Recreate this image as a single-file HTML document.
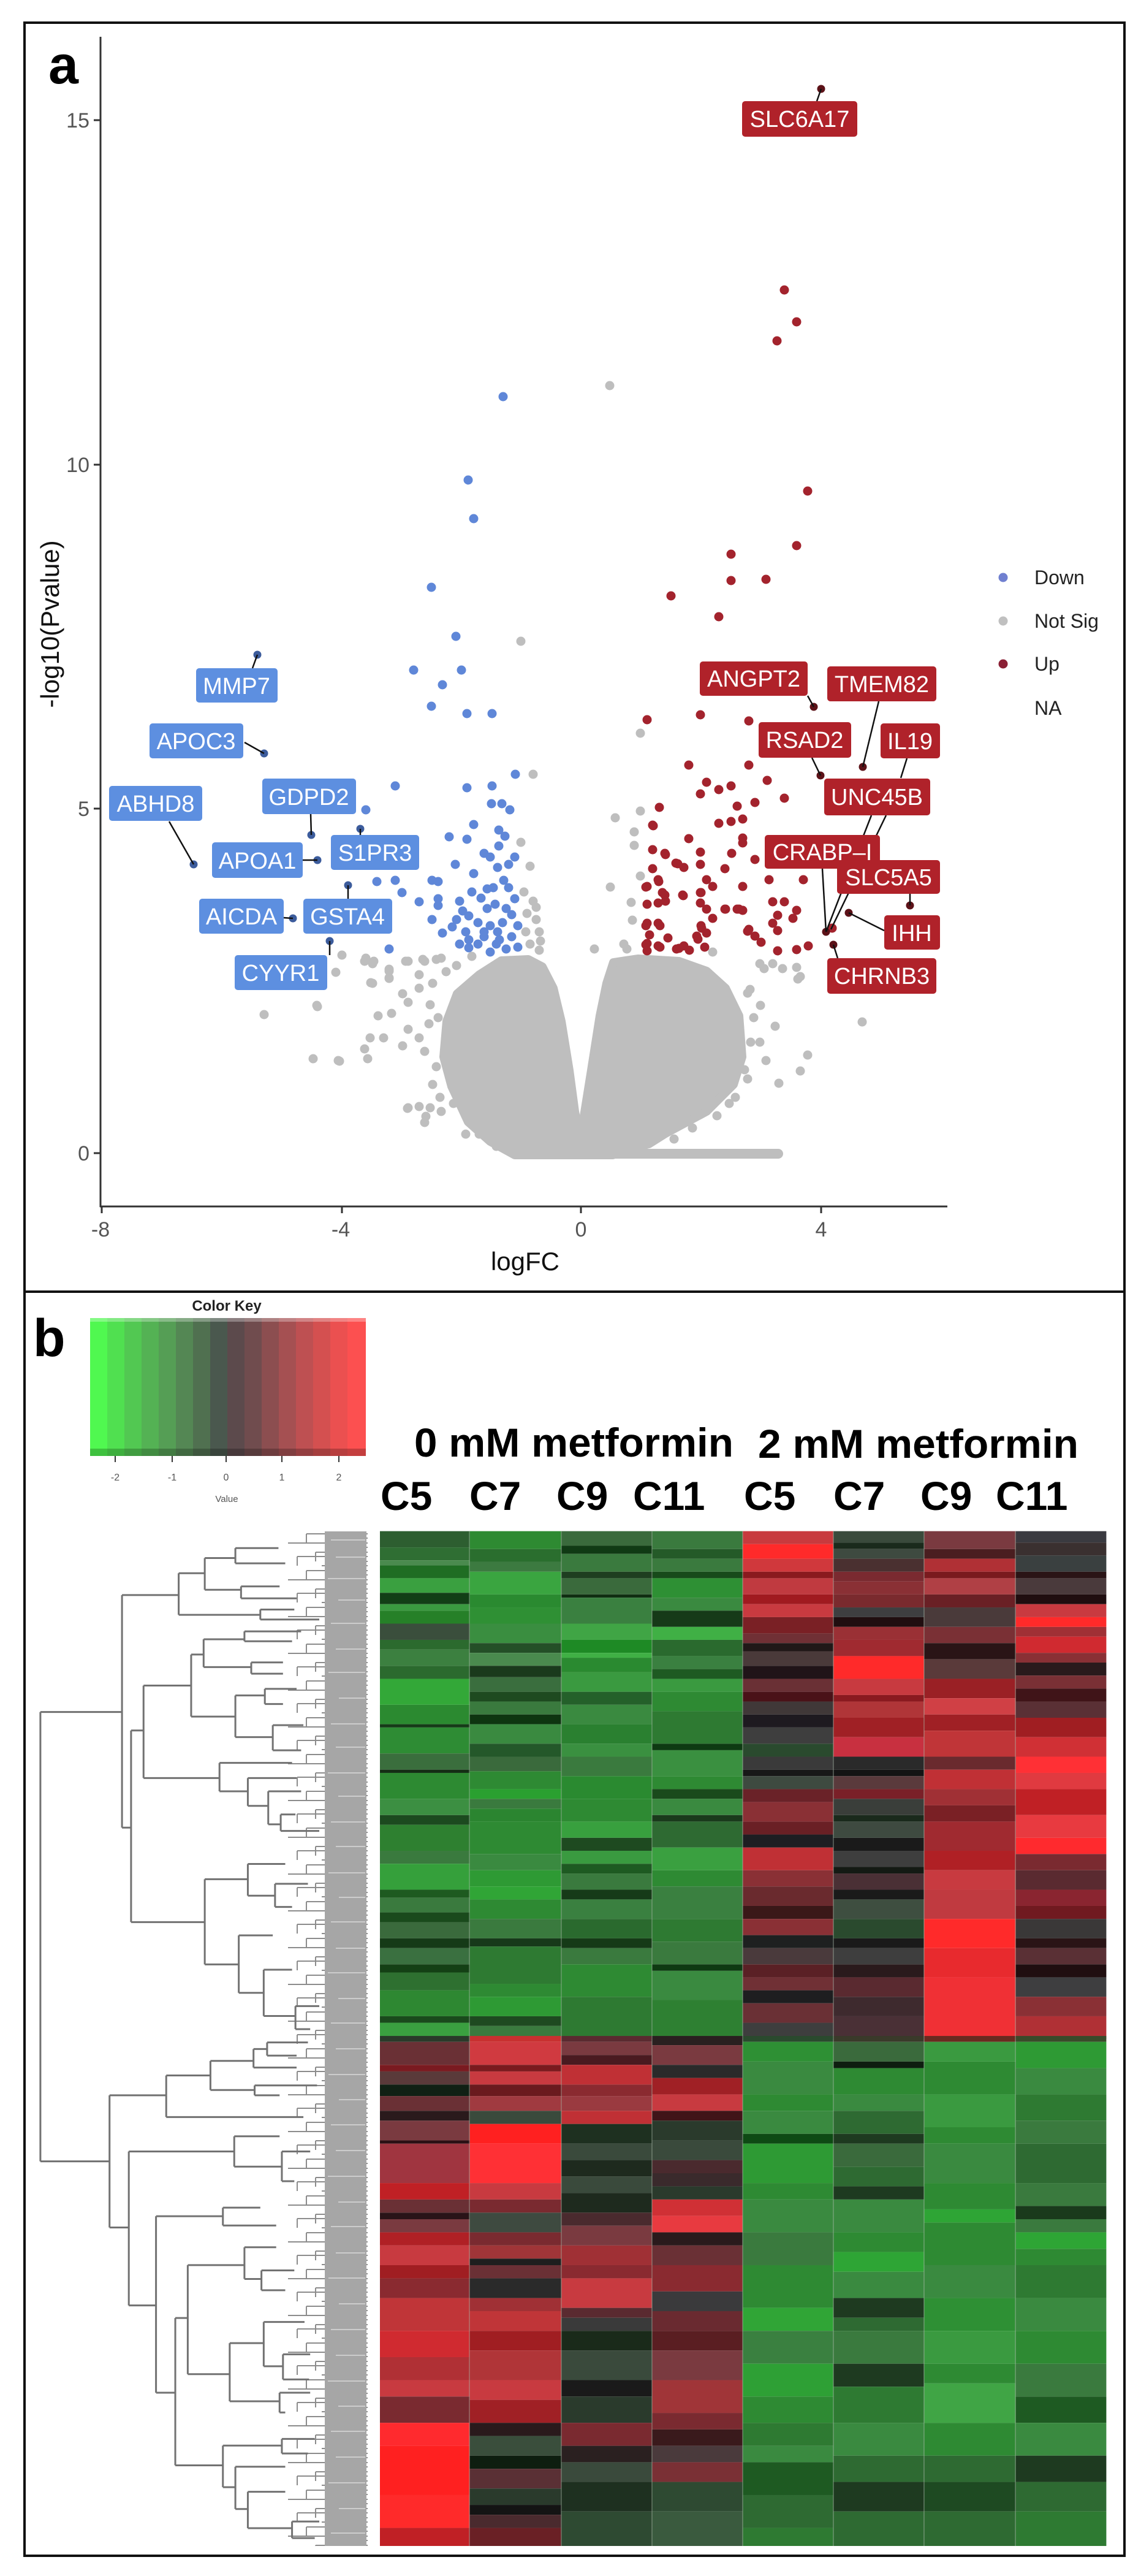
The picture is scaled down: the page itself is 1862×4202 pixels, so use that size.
<!DOCTYPE html>
<html><head><meta charset="utf-8"><style>
html,body{margin:0;padding:0;background:#fff}
svg{display:block}
text{font-family:"Liberation Sans",Arial,sans-serif}
</style></head><body>
<svg width="1862" height="4202" viewBox="0 0 1862 4202" xmlns="http://www.w3.org/2000/svg">
<rect x="0" y="0" width="1862" height="4202" fill="#fff"/>
<rect x="40" y="37" width="1795" height="4132" fill="none" stroke="#111" stroke-width="4"/>
<line x1="40" y1="2107" x2="1835" y2="2107" stroke="#111" stroke-width="4"/>

<text x="79" y="136" font-size="88" font-weight="bold" fill="#000">a</text>

<!-- gray cloud -->
<path d="M840,1884 L800,1862 L764,1830 L737,1772 L724,1724 L729,1666 L746,1621 L782,1590 L818,1567 L862,1565 L885,1577 L903,1612 L916,1666 L929,1746 L938,1813 L945,1848 L952,1827 L965,1746 L979,1657 L990,1604 L1001,1570 L1041,1564 L1108,1568 L1153,1584 L1184,1612 L1206,1657 L1211,1724 L1197,1769 L1153,1813 L1086,1849 L1059,1866 L1020,1876 L1000,1884 Z" fill="#bebebe" stroke="#bebebe" stroke-width="14" stroke-linejoin="round"/>
<rect x="835" y="1874" width="443" height="16" rx="8" fill="#bebebe"/>
<g fill="#bebebe">
<circle cx="995" cy="629" r="7.5"/><circle cx="850" cy="1046" r="7.5"/><circle cx="1045" cy="1196" r="7.5"/><circle cx="870" cy="1263" r="7.5"/><circle cx="850" cy="1374" r="7.5"/><circle cx="865" cy="1413" r="7.5"/><circle cx="1045" cy="1323" r="7.5"/><circle cx="1004" cy="1334" r="7.5"/><circle cx="1035" cy="1357" r="7.5"/><circle cx="1035" cy="1379" r="7.5"/><circle cx="1045" cy="1429" r="7.5"/><circle cx="996" cy="1447" r="7.5"/><circle cx="1030" cy="1472" r="7.5"/><circle cx="1032" cy="1501" r="7.5"/><circle cx="970" cy="1548" r="7.5"/><circle cx="1023" cy="1548" r="7.5"/><circle cx="1018" cy="1540" r="7.5"/><circle cx="1163" cy="1553" r="7.5"/><circle cx="1240" cy="1572" r="7.5"/><circle cx="1261" cy="1572" r="7.5"/><circle cx="1300" cy="1578" r="7.5"/><circle cx="1302" cy="1597" r="7.5"/><circle cx="1224" cy="1614" r="7.5"/><circle cx="1247" cy="1580" r="7.5"/><circle cx="1277" cy="1580" r="7.5"/><circle cx="1306" cy="1593" r="7.5"/>
<circle cx="855" cy="1455" r="7.5"/><circle cx="870" cy="1470" r="7.5"/><circle cx="860" cy="1490" r="7.5"/><circle cx="875" cy="1500" r="7.5"/><circle cx="880" cy="1520" r="7.5"/><circle cx="865" cy="1540" r="7.5"/><circle cx="880" cy="1550" r="7.5"/><circle cx="858" cy="1520" r="7.5"/><circle cx="875" cy="1480" r="7.5"/><circle cx="882" cy="1535" r="7.5"/>
<circle cx="558" cy="1558" r="7.5"/><circle cx="597" cy="1563" r="7.5"/><circle cx="610" cy="1568" r="7.5"/><circle cx="635" cy="1584" r="7.5"/><circle cx="635" cy="1596" r="7.5"/><circle cx="548" cy="1586" r="7.5"/><circle cx="605" cy="1603" r="7.5"/><circle cx="666" cy="1568" r="7.5"/><circle cx="690" cy="1565" r="7.5"/><circle cx="712" cy="1565" r="7.5"/><circle cx="518" cy="1642" r="7.5"/><circle cx="431" cy="1655" r="7.5"/><circle cx="517" cy="1640" r="7.5"/><circle cx="511" cy="1727" r="7.5"/><circle cx="552" cy="1730" r="7.5"/><circle cx="600" cy="1727" r="7.5"/><circle cx="665" cy="1808" r="7.5"/><circle cx="695" cy="1821" r="7.5"/>
<circle cx="595" cy="1568" r="7.5"/><circle cx="608" cy="1572" r="7.5"/><circle cx="635" cy="1581" r="7.5"/><circle cx="662" cy="1568" r="7.5"/><circle cx="693" cy="1568" r="7.5"/><circle cx="720" cy="1563" r="7.5"/><circle cx="608" cy="1604" r="7.5"/><circle cx="635" cy="1595" r="7.5"/><circle cx="684" cy="1590" r="7.5"/><circle cx="657" cy="1621" r="7.5"/><circle cx="684" cy="1612" r="7.5"/><circle cx="706" cy="1604" r="7.5"/><circle cx="666" cy="1635" r="7.5"/><circle cx="617" cy="1657" r="7.5"/><circle cx="639" cy="1653" r="7.5"/><circle cx="702" cy="1639" r="7.5"/><circle cx="666" cy="1679" r="7.5"/><circle cx="604" cy="1693" r="7.5"/><circle cx="626" cy="1693" r="7.5"/><circle cx="595" cy="1711" r="7.5"/><circle cx="657" cy="1706" r="7.5"/><circle cx="684" cy="1693" r="7.5"/><circle cx="693" cy="1715" r="7.5"/><circle cx="554" cy="1731" r="7.5"/><circle cx="706" cy="1769" r="7.5"/><circle cx="666" cy="1807" r="7.5"/><circle cx="684" cy="1805" r="7.5"/><circle cx="702" cy="1807" r="7.5"/><circle cx="693" cy="1831" r="7.5"/><circle cx="720" cy="1813" r="7.5"/><circle cx="782" cy="1850" r="7.5"/><circle cx="715" cy="1660" r="7.5"/><circle cx="712" cy="1740" r="7.5"/><circle cx="718" cy="1790" r="7.5"/><circle cx="700" cy="1670" r="7.5"/><circle cx="728" cy="1585" r="7.5"/><circle cx="745" cy="1575" r="7.5"/><circle cx="770" cy="1560" r="7.5"/><circle cx="730" cy="1700" r="7.5"/><circle cx="740" cy="1800" r="7.5"/><circle cx="760" cy="1850" r="7.5"/><circle cx="810" cy="1870" r="7.5"/>
<circle cx="1407" cy="1667" r="7.5"/><circle cx="1318" cy="1721" r="7.5"/><circle cx="1306" cy="1747" r="7.5"/><circle cx="1271" cy="1767" r="7.5"/><circle cx="1265" cy="1674" r="7.5"/><circle cx="1241" cy="1640" r="7.5"/><circle cx="1220" cy="1620" r="7.5"/><circle cx="1230" cy="1660" r="7.5"/><circle cx="1225" cy="1700" r="7.5"/><circle cx="1215" cy="1745" r="7.5"/><circle cx="1240" cy="1700" r="7.5"/><circle cx="1200" cy="1790" r="7.5"/><circle cx="1220" cy="1760" r="7.5"/><circle cx="1250" cy="1730" r="7.5"/><circle cx="1190" cy="1800" r="7.5"/><circle cx="1170" cy="1820" r="7.5"/><circle cx="1130" cy="1840" r="7.5"/><circle cx="1100" cy="1858" r="7.5"/>
</g>

<!-- blue points -->
<g fill="#5f87d8">
<circle cx="821" cy="647" r="7.5"/><circle cx="764" cy="783" r="7.5"/><circle cx="773" cy="846" r="7.5"/><circle cx="704" cy="958" r="7.5"/><circle cx="744" cy="1038" r="7.5"/><circle cx="675" cy="1093" r="7.5"/><circle cx="753" cy="1093" r="7.5"/><circle cx="722" cy="1117" r="7.5"/><circle cx="704" cy="1152" r="7.5"/><circle cx="762" cy="1164" r="7.5"/><circle cx="803" cy="1164" r="7.5"/><circle cx="841" cy="1263" r="7.5"/><circle cx="645" cy="1282" r="7.5"/><circle cx="762" cy="1285" r="7.5"/><circle cx="803" cy="1282" r="7.5"/><circle cx="802" cy="1311" r="7.5"/><circle cx="819" cy="1311" r="7.5"/><circle cx="832" cy="1321" r="7.5"/><circle cx="597" cy="1321" r="7.5"/><circle cx="773" cy="1345" r="7.5"/><circle cx="733" cy="1365" r="7.5"/><circle cx="762" cy="1369" r="7.5"/><circle cx="814" cy="1354" r="7.5"/><circle cx="824" cy="1364" r="7.5"/><circle cx="814" cy="1380" r="7.5"/><circle cx="743" cy="1410" r="7.5"/><circle cx="773" cy="1425" r="7.5"/><circle cx="790" cy="1392" r="7.5"/><circle cx="800" cy="1398" r="7.5"/><circle cx="840" cy="1398" r="7.5"/><circle cx="812" cy="1415" r="7.5"/><circle cx="822" cy="1436" r="7.5"/><circle cx="805" cy="1448" r="7.5"/><circle cx="795" cy="1450" r="7.5"/><circle cx="830" cy="1448" r="7.5"/><circle cx="615" cy="1438" r="7.5"/><circle cx="645" cy="1436" r="7.5"/><circle cx="656" cy="1456" r="7.5"/><circle cx="705" cy="1436" r="7.5"/><circle cx="715" cy="1438" r="7.5"/><circle cx="684" cy="1471" r="7.5"/><circle cx="715" cy="1466" r="7.5"/><circle cx="715" cy="1477" r="7.5"/><circle cx="705" cy="1500" r="7.5"/><circle cx="840" cy="1466" r="7.5"/><circle cx="755" cy="1486" r="7.5"/><circle cx="765" cy="1494" r="7.5"/><circle cx="795" cy="1482" r="7.5"/><circle cx="826" cy="1482" r="7.5"/><circle cx="835" cy="1492" r="7.5"/><circle cx="722" cy="1522" r="7.5"/><circle cx="738" cy="1512" r="7.5"/><circle cx="765" cy="1533" r="7.5"/><circle cx="790" cy="1528" r="7.5"/><circle cx="815" cy="1533" r="7.5"/><circle cx="835" cy="1528" r="7.5"/><circle cx="765" cy="1546" r="7.5"/><circle cx="826" cy="1548" r="7.5"/><circle cx="635" cy="1548" r="7.5"/><circle cx="780" cy="1505" r="7.5"/><circle cx="800" cy="1510" r="7.5"/><circle cx="820" cy="1505" r="7.5"/><circle cx="790" cy="1520" r="7.5"/><circle cx="810" cy="1540" r="7.5"/><circle cx="780" cy="1540" r="7.5"/><circle cx="800" cy="1553" r="7.5"/><circle cx="760" cy="1520" r="7.5"/><circle cx="845" cy="1510" r="7.5"/><circle cx="845" cy="1545" r="7.5"/><circle cx="750" cy="1470" r="7.5"/><circle cx="785" cy="1465" r="7.5"/><circle cx="808" cy="1475" r="7.5"/><circle cx="770" cy="1455" r="7.5"/><circle cx="830" cy="1410" r="7.5"/><circle cx="745" cy="1500" r="7.5"/><circle cx="812" cy="1520" r="7.5"/><circle cx="750" cy="1540" r="7.5"/>
</g>
<g fill="#3c5c9c">
<circle cx="420" cy="1068" r="6.5"/><circle cx="431" cy="1229" r="6.5"/><circle cx="316" cy="1410" r="6.5"/><circle cx="508" cy="1362" r="6.5"/><circle cx="518" cy="1403" r="6.5"/><circle cx="588" cy="1352" r="6.5"/><circle cx="478" cy="1498" r="6.5"/><circle cx="568" cy="1444" r="6.5"/><circle cx="538" cy="1535" r="6.5"/>
</g>

<!-- red points -->
<g fill="#a3232d">
<circle cx="1280" cy="473" r="7.5"/><circle cx="1300" cy="525" r="7.5"/><circle cx="1268" cy="556" r="7.5"/><circle cx="1318" cy="801" r="7.5"/><circle cx="1300" cy="890" r="7.5"/><circle cx="1193" cy="904" r="7.5"/><circle cx="1193" cy="947" r="7.5"/><circle cx="1250" cy="945" r="7.5"/><circle cx="1095" cy="972" r="7.5"/><circle cx="1173" cy="1006" r="7.5"/>
<circle cx="1056" cy="1174" r="7.5"/><circle cx="1143" cy="1166" r="7.5"/><circle cx="1222" cy="1176" r="7.5"/><circle cx="1124" cy="1248" r="7.5"/><circle cx="1222" cy="1248" r="7.5"/><circle cx="1153" cy="1276" r="7.5"/><circle cx="1193" cy="1282" r="7.5"/><circle cx="1173" cy="1288" r="7.5"/><circle cx="1143" cy="1295" r="7.5"/><circle cx="1252" cy="1273" r="7.5"/><circle cx="1280" cy="1302" r="7.5"/><circle cx="1232" cy="1309" r="7.5"/><circle cx="1076" cy="1317" r="7.5"/><circle cx="1203" cy="1315" r="7.5"/><circle cx="1193" cy="1340" r="7.5"/><circle cx="1173" cy="1343" r="7.5"/><circle cx="1212" cy="1336" r="7.5"/><circle cx="1065" cy="1346" r="7.5"/><circle cx="1124" cy="1368" r="7.5"/><circle cx="1212" cy="1367" r="7.5"/><circle cx="1212" cy="1375" r="7.5"/><circle cx="1065" cy="1386" r="7.5"/><circle cx="1085" cy="1392" r="7.5"/><circle cx="1143" cy="1390" r="7.5"/><circle cx="1194" cy="1392" r="7.5"/><circle cx="1232" cy="1402" r="7.5"/><circle cx="1103" cy="1408" r="7.5"/><circle cx="1116" cy="1415" r="7.5"/><circle cx="1143" cy="1410" r="7.5"/><circle cx="1183" cy="1417" r="7.5"/><circle cx="1065" cy="1417" r="7.5"/><circle cx="1074" cy="1435" r="7.5"/><circle cx="1056" cy="1446" r="7.5"/><circle cx="1153" cy="1435" r="7.5"/><circle cx="1163" cy="1446" r="7.5"/><circle cx="1255" cy="1435" r="7.5"/><circle cx="1311" cy="1435" r="7.5"/><circle cx="1212" cy="1446" r="7.5"/><circle cx="1114" cy="1460" r="7.5"/><circle cx="1085" cy="1460" r="7.5"/><circle cx="1143" cy="1456" r="7.5"/><circle cx="1143" cy="1473" r="7.5"/><circle cx="1056" cy="1475" r="7.5"/><circle cx="1074" cy="1473" r="7.5"/><circle cx="1261" cy="1471" r="7.5"/><circle cx="1280" cy="1471" r="7.5"/><circle cx="1183" cy="1483" r="7.5"/><circle cx="1203" cy="1483" r="7.5"/><circle cx="1212" cy="1485" r="7.5"/><circle cx="1153" cy="1483" r="7.5"/><circle cx="1163" cy="1498" r="7.5"/><circle cx="1300" cy="1485" r="7.5"/><circle cx="1294" cy="1498" r="7.5"/><circle cx="1269" cy="1493" r="7.5"/><circle cx="1261" cy="1506" r="7.5"/><circle cx="1269" cy="1518" r="7.5"/><circle cx="1056" cy="1506" r="7.5"/><circle cx="1074" cy="1506" r="7.5"/><circle cx="1145" cy="1514" r="7.5"/><circle cx="1153" cy="1522" r="7.5"/><circle cx="1137" cy="1527" r="7.5"/><circle cx="1222" cy="1516" r="7.5"/><circle cx="1232" cy="1527" r="7.5"/><circle cx="1358" cy="1514" r="7.5"/><circle cx="1056" cy="1539" r="7.5"/><circle cx="1074" cy="1543" r="7.5"/><circle cx="1108" cy="1547" r="7.5"/><circle cx="1116" cy="1543" r="7.5"/><circle cx="1242" cy="1537" r="7.5"/><circle cx="1269" cy="1551" r="7.5"/><circle cx="1300" cy="1549" r="7.5"/><circle cx="1319" cy="1543" r="7.5"/><circle cx="1056" cy="1551" r="7.5"/><circle cx="1066" cy="1347" r="7.5"/><circle cx="1086" cy="1394" r="7.5"/><circle cx="1106" cy="1409" r="7.5"/><circle cx="1054" cy="1447" r="7.5"/><circle cx="1075" cy="1438" r="7.5"/><circle cx="1081" cy="1456" r="7.5"/><circle cx="1086" cy="1470" r="7.5"/><circle cx="1115" cy="1461" r="7.5"/><circle cx="1144" cy="1456" r="7.5"/><circle cx="1184" cy="1483" r="7.5"/><circle cx="1206" cy="1483" r="7.5"/><circle cx="1054" cy="1510" r="7.5"/><circle cx="1077" cy="1510" r="7.5"/><circle cx="1144" cy="1510" r="7.5"/><circle cx="1139" cy="1532" r="7.5"/><circle cx="1054" cy="1541" r="7.5"/><circle cx="1077" cy="1545" r="7.5"/><circle cx="1104" cy="1548" r="7.5"/><circle cx="1220" cy="1519" r="7.5"/><circle cx="1060" cy="1525" r="7.5"/><circle cx="1150" cy="1545" r="7.5"/><circle cx="1125" cy="1550" r="7.5"/><circle cx="1090" cy="1530" r="7.5"/>
</g>
<g fill="#5c1218">
<circle cx="1340" cy="145" r="6.5"/><circle cx="1328" cy="1153" r="6.5"/><circle cx="1408" cy="1251" r="6.5"/><circle cx="1339" cy="1265" r="6.5"/><circle cx="1385" cy="1489" r="6.5"/><circle cx="1485" cy="1477" r="6.5"/><circle cx="1348" cy="1520" r="6.5"/><circle cx="1360" cy="1541" r="6.5"/>
</g>

<!-- axes -->
<g stroke="#333" stroke-width="3" fill="none">
<line x1="164" y1="60" x2="164" y2="1969"/>
<line x1="163" y1="1968" x2="1546" y2="1968"/>
<line x1="153" y1="1881" x2="164" y2="1881"/>
<line x1="153" y1="1319" x2="164" y2="1319"/>
<line x1="153" y1="758" x2="164" y2="758"/>
<line x1="153" y1="196" x2="164" y2="196"/>
<line x1="166" y1="1968" x2="166" y2="1979"/>
<line x1="558" y1="1968" x2="558" y2="1979"/>
<line x1="948" y1="1968" x2="948" y2="1979"/>
<line x1="1340" y1="1968" x2="1340" y2="1979"/>
</g>
<g font-size="34" fill="#555" text-anchor="end">
<text x="146" y="1893">0</text>
<text x="146" y="1331">5</text>
<text x="146" y="770">10</text>
<text x="146" y="208">15</text>
</g>
<g font-size="34" fill="#555" text-anchor="middle">
<text x="164" y="2017">-8</text>
<text x="556" y="2017">-4</text>
<text x="948" y="2017">0</text>
<text x="1340" y="2017">4</text>
</g>
<text x="857" y="2072" font-size="42" fill="#111" text-anchor="middle">logFC</text>
<text transform="translate(96,1018) rotate(-90)" font-size="42" fill="#111" text-anchor="middle">-log10(Pvalue)</text>

<!-- legend -->
<circle cx="1637" cy="942" r="7.5" fill="#7080d0"/>
<circle cx="1637" cy="1013" r="7.5" fill="#c0c0c0"/>
<circle cx="1637" cy="1083" r="7.5" fill="#8b2035"/>
<g font-size="32" fill="#222">
<text x="1688" y="953">Down</text>
<text x="1688" y="1024">Not Sig</text>
<text x="1688" y="1094">Up</text>
<text x="1688" y="1166">NA</text>
</g>

<!-- label segments -->
<g stroke="#111" stroke-width="2.5" fill="none">
<line x1="412" y1="1090" x2="420" y2="1068"/>
<line x1="399" y1="1211" x2="431" y2="1229"/>
<line x1="276" y1="1340" x2="316" y2="1410"/>
<line x1="507" y1="1328" x2="508" y2="1362"/>
<line x1="494" y1="1403" x2="518" y2="1403"/>
<line x1="588" y1="1362" x2="588" y2="1352"/>
<line x1="463" y1="1497" x2="478" y2="1498"/>
<line x1="568" y1="1466" x2="568" y2="1444"/>
<line x1="538" y1="1558" x2="538" y2="1535"/>
<line x1="1333" y1="165" x2="1340" y2="145"/>
<line x1="1318" y1="1135" x2="1328" y2="1153"/>
<line x1="1434" y1="1144" x2="1408" y2="1251"/>
<line x1="1325" y1="1236" x2="1339" y2="1265"/>
<line x1="1480" y1="1237" x2="1470" y2="1269"/>
<line x1="1422" y1="1330" x2="1348" y2="1520"/>
<line x1="1446" y1="1330" x2="1356" y2="1516"/>
<line x1="1342" y1="1417" x2="1348" y2="1520"/>
<line x1="1485" y1="1458" x2="1485" y2="1477"/>
<line x1="1443" y1="1518" x2="1385" y2="1489"/>
<line x1="1367" y1="1563" x2="1360" y2="1541"/>
</g>

<!-- blue labels -->
<g fill="#5d8fe0">
<rect x="320" y="1090" width="133" height="56" rx="5"/>
<rect x="244" y="1180" width="153" height="57" rx="5"/>
<rect x="178" y="1282" width="152" height="57" rx="5"/>
<rect x="428" y="1270" width="153" height="58" rx="5"/>
<rect x="346" y="1374" width="148" height="58" rx="5"/>
<rect x="540" y="1362" width="144" height="57" rx="5"/>
<rect x="325" y="1466" width="138" height="57" rx="5"/>
<rect x="495" y="1466" width="145" height="57" rx="5"/>
<rect x="383" y="1558" width="151" height="57" rx="5"/>
</g>
<g font-size="38" fill="#fff" text-anchor="middle">
<text x="386" y="1132">MMP7</text>
<text x="320" y="1222">APOC3</text>
<text x="254" y="1324">ABHD8</text>
<text x="504" y="1313">GDPD2</text>
<text x="420" y="1417">APOA1</text>
<text x="612" y="1404">S1PR3</text>
<text x="394" y="1508">AICDA</text>
<text x="567" y="1508">GSTA4</text>
<text x="458" y="1600">CYYR1</text>
</g>

<!-- red labels -->
<g fill="#b0222a">
<rect x="1211" y="165" width="188" height="58" rx="5"/>
<rect x="1142" y="1079" width="176" height="56" rx="5"/>
<rect x="1350" y="1087" width="178" height="57" rx="5"/>
<rect x="1238" y="1178" width="151" height="58" rx="5"/>
<rect x="1437" y="1180" width="97" height="57" rx="5"/>
<rect x="1345" y="1270" width="173" height="60" rx="5"/>
<rect x="1366" y="1403" width="168" height="55" rx="5"/>
</g>
<text x="1450" y="1444" font-size="38" fill="#fff" text-anchor="middle">SLC5A5</text>
<rect x="1248" y="1362" width="188" height="55" rx="5" fill="#b0222a"/>
<g fill="#b0222a">
<rect x="1443" y="1493" width="91" height="56" rx="5"/>
<rect x="1350" y="1563" width="178" height="58" rx="5"/>
</g>
<g font-size="38" fill="#fff" text-anchor="middle">
<text x="1305" y="207">SLC6A17</text>
<text x="1230" y="1120">ANGPT2</text>
<text x="1439" y="1129">TMEM82</text>
<text x="1313" y="1220">RSAD2</text>
<text x="1485" y="1222">IL19</text>
<text x="1431" y="1313">UNC45B</text>
<text x="1342" y="1403">CRABP–I</text>
<text x="1488" y="1535">IHH</text>
<text x="1439" y="1605">CHRNB3</text>
</g>

<!-- ================= PANEL B ================= -->
<text x="54" y="2212" font-size="86" font-weight="bold" fill="#000">b</text>

<g>
<rect x="147" y="2150" width="29" height="225" fill="#50f850"/>
<rect x="175" y="2150" width="29" height="225" fill="#50e050"/>
<rect x="203" y="2150" width="29" height="225" fill="#52c852"/>
<rect x="231" y="2150" width="29" height="225" fill="#54b254"/>
<rect x="259" y="2150" width="29" height="225" fill="#559e55"/>
<rect x="287" y="2150" width="29" height="225" fill="#548754"/>
<rect x="315" y="2150" width="29" height="225" fill="#507050"/>
<rect x="343" y="2150" width="29" height="225" fill="#4a584e"/>
<rect x="371" y="2150" width="29" height="225" fill="#5c4a4c"/>
<rect x="399" y="2150" width="29" height="225" fill="#704c4e"/>
<rect x="427" y="2150" width="29" height="225" fill="#8c4e50"/>
<rect x="455" y="2150" width="29" height="225" fill="#a55052"/>
<rect x="483" y="2150" width="29" height="225" fill="#be5052"/>
<rect x="511" y="2150" width="29" height="225" fill="#d45050"/>
<rect x="539" y="2150" width="29" height="225" fill="#eb5050"/>
<rect x="567" y="2150" width="30" height="225" fill="#fc5050"/>
<rect x="147" y="2363" width="450" height="12" fill="#000" opacity="0.22"/>
<rect x="147" y="2150" width="450" height="6" fill="#fff" opacity="0.3"/>
</g>
<g stroke="#333" stroke-width="2">
<line x1="188" y1="2375" x2="188" y2="2385"/>
<line x1="281" y1="2375" x2="281" y2="2385"/>
<line x1="369" y1="2375" x2="369" y2="2385"/>
<line x1="460" y1="2375" x2="460" y2="2385"/>
<line x1="553" y1="2375" x2="553" y2="2385"/>
</g>
<g font-size="16" fill="#555" text-anchor="middle">
<text x="188" y="2415">-2</text>
<text x="281" y="2415">-1</text>
<text x="369" y="2415">0</text>
<text x="460" y="2415">1</text>
<text x="553" y="2415">2</text>
<text x="370" y="2450" font-size="15">Value</text>
</g>
<text x="370" y="2138" font-size="24" font-weight="bold" fill="#222" text-anchor="middle">Color Key</text>

<g font-size="66" font-weight="bold" fill="#000">
<text x="676" y="2376" textLength="521" lengthAdjust="spacingAndGlyphs">0 mM metformin</text>
<text x="1237" y="2378" textLength="523" lengthAdjust="spacingAndGlyphs">2 mM metformin</text>
<text x="621" y="2463">C5</text>
<text x="766" y="2463">C7</text>
<text x="908" y="2463">C9</text>
<text x="1033" y="2463">C11</text>
<text x="1214" y="2463">C5</text>
<text x="1360" y="2463">C7</text>
<text x="1502" y="2463">C9</text>
<text x="1625" y="2463">C11</text>
</g>

<!-- heatmap upper -->
<g transform="translate(620,2495) scale(0.7589,0.5293)">
<g>
<rect x="0" y="5" width="193" height="50" fill="#2d5e30"/><rect x="0" y="55" width="193" height="40" fill="#2f6e33"/><rect x="0" y="95" width="193" height="15" fill="#4a8a4e"/><rect x="0" y="110" width="193" height="40" fill="#1f6d23"/><rect x="0" y="150" width="193" height="45" fill="#3aa040"/><rect x="0" y="195" width="193" height="35" fill="#123f16"/><rect x="0" y="230" width="193" height="20" fill="#3a9a40"/><rect x="0" y="250" width="193" height="40" fill="#268028"/><rect x="0" y="290" width="193" height="50" fill="#3a4e3c"/><rect x="0" y="340" width="193" height="30" fill="#2b6a2e"/><rect x="0" y="370" width="193" height="50" fill="#3c8040"/><rect x="0" y="420" width="193" height="40" fill="#2b6a2e"/><rect x="0" y="460" width="193" height="80" fill="#33a838"/><rect x="0" y="540" width="193" height="60" fill="#2b8a30"/><rect x="0" y="600" width="193" height="10" fill="#163a18"/><rect x="0" y="610" width="193" height="80" fill="#2e8c34"/><rect x="0" y="690" width="193" height="50" fill="#3a6e3d"/><rect x="0" y="740" width="193" height="10" fill="#142e15"/><rect x="0" y="750" width="193" height="80" fill="#2d8a32"/><rect x="0" y="830" width="193" height="50" fill="#3c8f42"/><rect x="0" y="880" width="193" height="30" fill="#1c4a1f"/><rect x="0" y="910" width="193" height="80" fill="#2e8030"/><rect x="0" y="990" width="193" height="40" fill="#3a7a3e"/><rect x="0" y="1030" width="193" height="80" fill="#35a03b"/><rect x="0" y="1110" width="193" height="25" fill="#1e5a20"/><rect x="0" y="1135" width="193" height="45" fill="#3a7a3e"/><rect x="0" y="1180" width="193" height="30" fill="#1a4a1c"/><rect x="0" y="1210" width="193" height="50" fill="#3a6a3c"/><rect x="0" y="1260" width="193" height="30" fill="#153a17"/><rect x="0" y="1290" width="193" height="50" fill="#3a7040"/><rect x="0" y="1340" width="193" height="25" fill="#144015"/><rect x="0" y="1365" width="193" height="55" fill="#2e7030"/><rect x="0" y="1420" width="193" height="80" fill="#2e8832"/><rect x="0" y="1500" width="193" height="20" fill="#1a4a1c"/><rect x="0" y="1520" width="193" height="50" fill="#3aa040"/>
</g>
<g transform="translate(193,0)">
<rect x="0" y="5" width="197" height="55" fill="#2e8a32"/><rect x="0" y="60" width="197" height="40" fill="#2a6e2e"/><rect x="0" y="100" width="197" height="30" fill="#3c7a40"/><rect x="0" y="130" width="197" height="70" fill="#3aa540"/><rect x="0" y="200" width="197" height="40" fill="#2a8a30"/><rect x="0" y="240" width="197" height="50" fill="#2f9034"/><rect x="0" y="290" width="197" height="60" fill="#3a8e40"/><rect x="0" y="350" width="197" height="30" fill="#244f27"/><rect x="0" y="380" width="197" height="40" fill="#4a8a4e"/><rect x="0" y="420" width="197" height="35" fill="#1a3a1c"/><rect x="0" y="455" width="197" height="45" fill="#3a6e3e"/><rect x="0" y="500" width="197" height="30" fill="#1e4a20"/><rect x="0" y="530" width="197" height="40" fill="#3a7a3e"/><rect x="0" y="570" width="197" height="30" fill="#0e3510"/><rect x="0" y="600" width="197" height="60" fill="#3a8a40"/><rect x="0" y="660" width="197" height="40" fill="#24582a"/><rect x="0" y="700" width="197" height="45" fill="#3a6a3c"/><rect x="0" y="745" width="197" height="55" fill="#2e8a33"/><rect x="0" y="800" width="197" height="30" fill="#2aa030"/><rect x="0" y="830" width="197" height="30" fill="#3a7a3e"/><rect x="0" y="860" width="197" height="40" fill="#2b8530"/><rect x="0" y="900" width="197" height="100" fill="#2e8a33"/><rect x="0" y="1000" width="197" height="50" fill="#3a8a40"/><rect x="0" y="1050" width="197" height="50" fill="#2e9a34"/><rect x="0" y="1100" width="197" height="40" fill="#30a536"/><rect x="0" y="1140" width="197" height="60" fill="#2e8a33"/><rect x="0" y="1200" width="197" height="60" fill="#3a7a3e"/><rect x="0" y="1260" width="197" height="25" fill="#17391a"/><rect x="0" y="1285" width="197" height="115" fill="#2e7a32"/><rect x="0" y="1400" width="197" height="40" fill="#2e8a33"/><rect x="0" y="1440" width="197" height="60" fill="#2e9a34"/><rect x="0" y="1500" width="197" height="30" fill="#1e4a20"/><rect x="0" y="1530" width="197" height="40" fill="#3a7a3e"/>
</g>
<g transform="translate(390,0)">
<rect x="0" y="5" width="195" height="45" fill="#3a6a3c"/><rect x="0" y="50" width="195" height="25" fill="#103a14"/><rect x="0" y="75" width="195" height="55" fill="#3a7a3e"/><rect x="0" y="130" width="195" height="20" fill="#1e3e20"/><rect x="0" y="150" width="195" height="50" fill="#3a6a3c"/><rect x="0" y="200" width="195" height="10" fill="#102e12"/><rect x="0" y="210" width="195" height="80" fill="#3a8040"/><rect x="0" y="290" width="195" height="50" fill="#40a545"/><rect x="0" y="340" width="195" height="40" fill="#1e8a25"/><rect x="0" y="380" width="195" height="15" fill="#40b045"/><rect x="0" y="395" width="195" height="45" fill="#2a8a30"/><rect x="0" y="440" width="195" height="60" fill="#3a9a40"/><rect x="0" y="500" width="195" height="40" fill="#24602a"/><rect x="0" y="540" width="195" height="60" fill="#3a8a40"/><rect x="0" y="600" width="195" height="60" fill="#2a8030"/><rect x="0" y="660" width="195" height="40" fill="#3a9040"/><rect x="0" y="700" width="195" height="60" fill="#3a7a3e"/><rect x="0" y="760" width="195" height="70" fill="#2a8a30"/><rect x="0" y="830" width="195" height="70" fill="#2e8a33"/><rect x="0" y="900" width="195" height="50" fill="#38a03e"/><rect x="0" y="950" width="195" height="40" fill="#1e4a20"/><rect x="0" y="990" width="195" height="40" fill="#3a9a40"/><rect x="0" y="1030" width="195" height="30" fill="#1e5a22"/><rect x="0" y="1060" width="195" height="50" fill="#3a7a3e"/><rect x="0" y="1110" width="195" height="30" fill="#163a18"/><rect x="0" y="1140" width="195" height="60" fill="#3a8040"/><rect x="0" y="1200" width="195" height="60" fill="#2a6a2e"/><rect x="0" y="1260" width="195" height="30" fill="#153a17"/><rect x="0" y="1290" width="195" height="50" fill="#3a7a3e"/><rect x="0" y="1340" width="195" height="100" fill="#2e8a33"/><rect x="0" y="1440" width="195" height="130" fill="#2e7a32"/>
</g>
<g transform="translate(585,0)">
<rect x="0" y="5" width="195" height="55" fill="#3a7a3e"/><rect x="0" y="60" width="195" height="30" fill="#245a28"/><rect x="0" y="90" width="195" height="40" fill="#3a7a3e"/><rect x="0" y="130" width="195" height="20" fill="#174a1a"/><rect x="0" y="150" width="195" height="60" fill="#2e9034"/><rect x="0" y="210" width="195" height="40" fill="#3a8a40"/><rect x="0" y="250" width="195" height="50" fill="#163a18"/><rect x="0" y="300" width="195" height="40" fill="#40b045"/><rect x="0" y="340" width="195" height="50" fill="#2a6a2e"/><rect x="0" y="390" width="195" height="40" fill="#3a8040"/><rect x="0" y="430" width="195" height="30" fill="#1e5a22"/><rect x="0" y="460" width="195" height="40" fill="#3a9a40"/><rect x="0" y="500" width="195" height="60" fill="#2e8a33"/><rect x="0" y="560" width="195" height="100" fill="#2e7a32"/><rect x="0" y="660" width="195" height="20" fill="#0e3a12"/><rect x="0" y="680" width="195" height="80" fill="#3a9040"/><rect x="0" y="760" width="195" height="40" fill="#2e8a33"/><rect x="0" y="800" width="195" height="30" fill="#1a4a1c"/><rect x="0" y="830" width="195" height="50" fill="#3a8a40"/><rect x="0" y="880" width="195" height="20" fill="#1a3a1c"/><rect x="0" y="900" width="195" height="80" fill="#2e6a32"/><rect x="0" y="980" width="195" height="70" fill="#3aa040"/><rect x="0" y="1050" width="195" height="50" fill="#2e8a33"/><rect x="0" y="1100" width="195" height="100" fill="#3a8040"/><rect x="0" y="1200" width="195" height="70" fill="#2e7a32"/><rect x="0" y="1270" width="195" height="70" fill="#3a7a3e"/><rect x="0" y="1340" width="195" height="20" fill="#0e3a12"/><rect x="0" y="1360" width="195" height="90" fill="#3a8a40"/><rect x="0" y="1450" width="195" height="120" fill="#2e8032"/>
</g>
<g transform="translate(780,0)">
<rect x="0" y="5" width="195" height="40" fill="#c83a3e"/><rect x="0" y="45" width="195" height="45" fill="#ff2a2a"/><rect x="0" y="90" width="195" height="40" fill="#d0383c"/><rect x="0" y="130" width="195" height="20" fill="#8a1a1e"/><rect x="0" y="150" width="195" height="50" fill="#c03a40"/><rect x="0" y="200" width="195" height="30" fill="#a01a20"/><rect x="0" y="230" width="195" height="40" fill="#c83a40"/><rect x="0" y="270" width="195" height="50" fill="#7a2025"/><rect x="0" y="320" width="195" height="30" fill="#703035"/><rect x="0" y="350" width="195" height="25" fill="#201818"/><rect x="0" y="375" width="195" height="45" fill="#4a3a3a"/><rect x="0" y="420" width="195" height="40" fill="#201418"/><rect x="0" y="460" width="195" height="40" fill="#6a3035"/><rect x="0" y="500" width="195" height="30" fill="#4a1218"/><rect x="0" y="530" width="195" height="40" fill="#403838"/><rect x="0" y="570" width="195" height="40" fill="#1e1a20"/><rect x="0" y="610" width="195" height="50" fill="#3e3e3e"/><rect x="0" y="660" width="195" height="40" fill="#2a4a2e"/><rect x="0" y="700" width="195" height="40" fill="#3a3a3a"/><rect x="0" y="740" width="195" height="20" fill="#181818"/><rect x="0" y="760" width="195" height="40" fill="#3e4a40"/><rect x="0" y="800" width="195" height="40" fill="#6a2228"/><rect x="0" y="840" width="195" height="60" fill="#8a3035"/><rect x="0" y="900" width="195" height="40" fill="#6a2025"/><rect x="0" y="940" width="195" height="40" fill="#1e1e22"/><rect x="0" y="980" width="195" height="70" fill="#c03035"/><rect x="0" y="1050" width="195" height="50" fill="#8a3035"/><rect x="0" y="1100" width="195" height="60" fill="#6a2a2e"/><rect x="0" y="1160" width="195" height="40" fill="#3a1818"/><rect x="0" y="1200" width="195" height="50" fill="#8a3035"/><rect x="0" y="1250" width="195" height="40" fill="#1e2020"/><rect x="0" y="1290" width="195" height="50" fill="#4a3a3c"/><rect x="0" y="1340" width="195" height="40" fill="#5a2025"/><rect x="0" y="1380" width="195" height="40" fill="#703035"/><rect x="0" y="1420" width="195" height="40" fill="#1e1e20"/><rect x="0" y="1460" width="195" height="60" fill="#6a3035"/><rect x="0" y="1520" width="195" height="50" fill="#3e3e3e"/>
</g>
<g transform="translate(975,0)">
<rect x="0" y="5" width="195" height="35" fill="#3a4a3c"/><rect x="0" y="40" width="195" height="20" fill="#1a2a1c"/><rect x="0" y="60" width="195" height="30" fill="#3e4a40"/><rect x="0" y="90" width="195" height="40" fill="#4a3030"/><rect x="0" y="130" width="195" height="30" fill="#7a2a30"/><rect x="0" y="160" width="195" height="40" fill="#8a3035"/><rect x="0" y="200" width="195" height="40" fill="#7a2a2e"/><rect x="0" y="240" width="195" height="30" fill="#3e3e40"/><rect x="0" y="270" width="195" height="30" fill="#200e10"/><rect x="0" y="300" width="195" height="40" fill="#9a3035"/><rect x="0" y="340" width="195" height="50" fill="#a02a30"/><rect x="0" y="390" width="195" height="70" fill="#ff2a2a"/><rect x="0" y="460" width="195" height="50" fill="#c83a40"/><rect x="0" y="510" width="195" height="20" fill="#8a1a20"/><rect x="0" y="530" width="195" height="50" fill="#b03538"/><rect x="0" y="580" width="195" height="60" fill="#a02025"/><rect x="0" y="640" width="195" height="60" fill="#c83040"/><rect x="0" y="700" width="195" height="40" fill="#2a2a2a"/><rect x="0" y="740" width="195" height="20" fill="#141414"/><rect x="0" y="760" width="195" height="40" fill="#5a3a3c"/><rect x="0" y="800" width="195" height="30" fill="#7a2028"/><rect x="0" y="830" width="195" height="50" fill="#3a3e3a"/><rect x="0" y="880" width="195" height="20" fill="#1a2a1c"/><rect x="0" y="900" width="195" height="50" fill="#3e4a40"/><rect x="0" y="950" width="195" height="40" fill="#1a1a1a"/><rect x="0" y="990" width="195" height="50" fill="#3e3e3e"/><rect x="0" y="1040" width="195" height="20" fill="#141a14"/><rect x="0" y="1060" width="195" height="50" fill="#4a3035"/><rect x="0" y="1110" width="195" height="30" fill="#1a1a1a"/><rect x="0" y="1140" width="195" height="60" fill="#3e4e40"/><rect x="0" y="1200" width="195" height="60" fill="#2a4a2e"/><rect x="0" y="1260" width="195" height="30" fill="#1a1a1a"/><rect x="0" y="1290" width="195" height="50" fill="#3e3e3e"/><rect x="0" y="1340" width="195" height="40" fill="#2a1a1c"/><rect x="0" y="1380" width="195" height="60" fill="#5a2a30"/><rect x="0" y="1440" width="195" height="60" fill="#3e2a2e"/><rect x="0" y="1500" width="195" height="70" fill="#4a3036"/>
</g>
<g transform="translate(1170,0)">
<rect x="0" y="5" width="197" height="55" fill="#7a3a40"/><rect x="0" y="60" width="197" height="30" fill="#4a1e20"/><rect x="0" y="90" width="197" height="40" fill="#b03035"/><rect x="0" y="130" width="197" height="20" fill="#7a1a1e"/><rect x="0" y="150" width="197" height="50" fill="#b04045"/><rect x="0" y="200" width="197" height="40" fill="#6a2025"/><rect x="0" y="240" width="197" height="60" fill="#4a3a3a"/><rect x="0" y="300" width="197" height="50" fill="#7a3035"/><rect x="0" y="350" width="197" height="50" fill="#2a1416"/><rect x="0" y="400" width="197" height="60" fill="#5a3a3a"/><rect x="0" y="460" width="197" height="60" fill="#9a2025"/><rect x="0" y="520" width="197" height="50" fill="#d04045"/><rect x="0" y="570" width="197" height="50" fill="#a02025"/><rect x="0" y="620" width="197" height="80" fill="#c03538"/><rect x="0" y="700" width="197" height="40" fill="#6a2a2e"/><rect x="0" y="740" width="197" height="60" fill="#c03035"/><rect x="0" y="800" width="197" height="50" fill="#a03035"/><rect x="0" y="850" width="197" height="50" fill="#7a2025"/><rect x="0" y="900" width="197" height="90" fill="#a02a30"/><rect x="0" y="990" width="197" height="60" fill="#b02025"/><rect x="0" y="1050" width="197" height="60" fill="#c83a40"/><rect x="0" y="1110" width="197" height="90" fill="#c03a40"/><rect x="0" y="1200" width="197" height="90" fill="#ff2a2a"/><rect x="0" y="1290" width="197" height="90" fill="#e82a2e"/><rect x="0" y="1380" width="197" height="190" fill="#f03035"/>
</g>
<g transform="translate(1367,0)">
<rect x="0" y="5" width="195" height="35" fill="#3a3a40"/><rect x="0" y="40" width="195" height="40" fill="#3a3030"/><rect x="0" y="80" width="195" height="50" fill="#3a4040"/><rect x="0" y="130" width="195" height="20" fill="#2a1416"/><rect x="0" y="150" width="195" height="50" fill="#4a3a3c"/><rect x="0" y="200" width="195" height="30" fill="#200e10"/><rect x="0" y="230" width="195" height="40" fill="#c83a40"/><rect x="0" y="270" width="195" height="30" fill="#ff2a2a"/><rect x="0" y="300" width="195" height="30" fill="#a03035"/><rect x="0" y="330" width="195" height="50" fill="#d02a30"/><rect x="0" y="380" width="195" height="30" fill="#8a3035"/><rect x="0" y="410" width="195" height="40" fill="#2a1a1c"/><rect x="0" y="450" width="195" height="40" fill="#7a3035"/><rect x="0" y="490" width="195" height="40" fill="#401418"/><rect x="0" y="530" width="195" height="50" fill="#5a3035"/><rect x="0" y="580" width="195" height="60" fill="#a01e22"/><rect x="0" y="640" width="195" height="60" fill="#d03035"/><rect x="0" y="700" width="195" height="50" fill="#ff3035"/><rect x="0" y="750" width="195" height="50" fill="#e03a40"/><rect x="0" y="800" width="195" height="80" fill="#c02025"/><rect x="0" y="880" width="195" height="70" fill="#e83a40"/><rect x="0" y="950" width="195" height="50" fill="#ff2a2e"/><rect x="0" y="1000" width="195" height="50" fill="#7a2a30"/><rect x="0" y="1050" width="195" height="60" fill="#5a2a30"/><rect x="0" y="1110" width="195" height="50" fill="#8a2530"/><rect x="0" y="1160" width="195" height="40" fill="#701a20"/><rect x="0" y="1200" width="195" height="60" fill="#3a3838"/><rect x="0" y="1260" width="195" height="30" fill="#2a1416"/><rect x="0" y="1290" width="195" height="50" fill="#5a3035"/><rect x="0" y="1340" width="195" height="40" fill="#200e10"/><rect x="0" y="1380" width="195" height="60" fill="#3e3e40"/><rect x="0" y="1440" width="195" height="60" fill="#8a3035"/><rect x="0" y="1500" width="195" height="70" fill="#b03035"/>
</g>
</g>

<!-- heatmap lower -->
<g transform="translate(620,3320) scale(0.7589,0.5357)">
<g>
<rect x="0" y="2" width="193" height="18" fill="#2a3a2a"/><rect x="0" y="20" width="193" height="70" fill="#6a3035"/><rect x="0" y="90" width="193" height="20" fill="#7a1a20"/><rect x="0" y="110" width="193" height="40" fill="#5a3a3a"/><rect x="0" y="150" width="193" height="35" fill="#102014"/><rect x="0" y="185" width="193" height="45" fill="#6a3035"/><rect x="0" y="230" width="193" height="30" fill="#2a1a1c"/><rect x="0" y="260" width="193" height="60" fill="#7a3a40"/><rect x="0" y="320" width="193" height="10" fill="#2a1014"/><rect x="0" y="330" width="193" height="120" fill="#a03540"/><rect x="0" y="450" width="193" height="50" fill="#c02025"/><rect x="0" y="500" width="193" height="40" fill="#6a3035"/><rect x="0" y="540" width="193" height="20" fill="#2a1418"/><rect x="0" y="560" width="193" height="40" fill="#7a3a40"/><rect x="0" y="600" width="193" height="40" fill="#b02025"/><rect x="0" y="640" width="193" height="60" fill="#c83a40"/><rect x="0" y="700" width="193" height="40" fill="#a01e22"/><rect x="0" y="740" width="193" height="60" fill="#8a2a30"/><rect x="0" y="800" width="193" height="100" fill="#c03538"/><rect x="0" y="900" width="193" height="80" fill="#d02a30"/><rect x="0" y="980" width="193" height="70" fill="#b03035"/><rect x="0" y="1050" width="193" height="50" fill="#c83a40"/><rect x="0" y="1100" width="193" height="80" fill="#7a2a30"/><rect x="0" y="1180" width="193" height="70" fill="#ff2a2e"/><rect x="0" y="1250" width="193" height="150" fill="#ff2020"/><rect x="0" y="1400" width="193" height="100" fill="#ff2a2a"/><rect x="0" y="1500" width="193" height="55" fill="#c02025"/>
</g>
<g transform="translate(193,0)">
<rect x="0" y="2" width="197" height="18" fill="#c83030"/><rect x="0" y="20" width="197" height="70" fill="#d03a40"/><rect x="0" y="90" width="197" height="20" fill="#7a1a1e"/><rect x="0" y="110" width="197" height="40" fill="#c83a40"/><rect x="0" y="150" width="197" height="35" fill="#6a1a1e"/><rect x="0" y="185" width="197" height="45" fill="#a03a40"/><rect x="0" y="230" width="197" height="40" fill="#3a4a3c"/><rect x="0" y="270" width="197" height="60" fill="#ff2020"/><rect x="0" y="330" width="197" height="120" fill="#ff3035"/><rect x="0" y="450" width="197" height="50" fill="#c83a40"/><rect x="0" y="500" width="197" height="40" fill="#7a2a30"/><rect x="0" y="540" width="197" height="60" fill="#3e4a40"/><rect x="0" y="600" width="197" height="40" fill="#7a2a30"/><rect x="0" y="640" width="197" height="40" fill="#a03538"/><rect x="0" y="680" width="197" height="20" fill="#1e1e1e"/><rect x="0" y="700" width="197" height="40" fill="#6a3035"/><rect x="0" y="740" width="197" height="60" fill="#2a2a2a"/><rect x="0" y="800" width="197" height="40" fill="#a03035"/><rect x="0" y="840" width="197" height="60" fill="#c03538"/><rect x="0" y="900" width="197" height="60" fill="#a01e22"/><rect x="0" y="960" width="197" height="90" fill="#b03538"/><rect x="0" y="1050" width="197" height="60" fill="#c83a40"/><rect x="0" y="1110" width="197" height="70" fill="#a02025"/><rect x="0" y="1180" width="197" height="40" fill="#2a1a1c"/><rect x="0" y="1220" width="197" height="60" fill="#3a4e3c"/><rect x="0" y="1280" width="197" height="40" fill="#0e1e10"/><rect x="0" y="1320" width="197" height="60" fill="#5a3035"/><rect x="0" y="1380" width="197" height="50" fill="#2a3a2c"/><rect x="0" y="1430" width="197" height="30" fill="#141414"/><rect x="0" y="1460" width="197" height="40" fill="#4a2a2e"/><rect x="0" y="1500" width="197" height="55" fill="#6a2025"/>
</g>
<g transform="translate(390,0)">
<rect x="0" y="2" width="195" height="18" fill="#5a2a30"/><rect x="0" y="20" width="195" height="40" fill="#7a3a40"/><rect x="0" y="60" width="195" height="30" fill="#4a1a20"/><rect x="0" y="90" width="195" height="60" fill="#c03035"/><rect x="0" y="150" width="195" height="35" fill="#8a2a30"/><rect x="0" y="185" width="195" height="45" fill="#9a3a40"/><rect x="0" y="230" width="195" height="40" fill="#c03035"/><rect x="0" y="270" width="195" height="60" fill="#1e3020"/><rect x="0" y="330" width="195" height="50" fill="#3a4a3c"/><rect x="0" y="380" width="195" height="50" fill="#1e2a1e"/><rect x="0" y="430" width="195" height="50" fill="#3a4a3c"/><rect x="0" y="480" width="195" height="60" fill="#1e2a1e"/><rect x="0" y="540" width="195" height="40" fill="#4a2a2e"/><rect x="0" y="580" width="195" height="60" fill="#7a3a40"/><rect x="0" y="640" width="195" height="60" fill="#a03035"/><rect x="0" y="700" width="195" height="40" fill="#8a2a30"/><rect x="0" y="740" width="195" height="90" fill="#c83a40"/><rect x="0" y="830" width="195" height="30" fill="#5a2a30"/><rect x="0" y="860" width="195" height="40" fill="#3a3a3a"/><rect x="0" y="900" width="195" height="60" fill="#1a2a1a"/><rect x="0" y="960" width="195" height="90" fill="#3a4a3c"/><rect x="0" y="1050" width="195" height="50" fill="#1a1a1a"/><rect x="0" y="1100" width="195" height="80" fill="#2a3a2c"/><rect x="0" y="1180" width="195" height="70" fill="#7a2a30"/><rect x="0" y="1250" width="195" height="50" fill="#2a2020"/><rect x="0" y="1300" width="195" height="60" fill="#3a4a3c"/><rect x="0" y="1360" width="195" height="90" fill="#1e3020"/><rect x="0" y="1450" width="195" height="105" fill="#2e4a32"/>
</g>
<g transform="translate(585,0)">
<rect x="0" y="2" width="195" height="28" fill="#2a2020"/><rect x="0" y="30" width="195" height="60" fill="#7a3a40"/><rect x="0" y="90" width="195" height="40" fill="#2a2a2a"/><rect x="0" y="130" width="195" height="50" fill="#a02025"/><rect x="0" y="180" width="195" height="50" fill="#c83a40"/><rect x="0" y="230" width="195" height="30" fill="#401418"/><rect x="0" y="260" width="195" height="60" fill="#2a3a2c"/><rect x="0" y="320" width="195" height="60" fill="#3a4a3c"/><rect x="0" y="380" width="195" height="40" fill="#4a2a2e"/><rect x="0" y="420" width="195" height="40" fill="#3a2a2c"/><rect x="0" y="460" width="195" height="40" fill="#2a3a2c"/><rect x="0" y="500" width="195" height="50" fill="#d03035"/><rect x="0" y="550" width="195" height="50" fill="#e83a40"/><rect x="0" y="600" width="195" height="40" fill="#2a1a1c"/><rect x="0" y="640" width="195" height="60" fill="#6a3035"/><rect x="0" y="700" width="195" height="80" fill="#8a2a30"/><rect x="0" y="780" width="195" height="60" fill="#3a3a3c"/><rect x="0" y="840" width="195" height="60" fill="#6a2a30"/><rect x="0" y="900" width="195" height="60" fill="#5a1e22"/><rect x="0" y="960" width="195" height="90" fill="#7a3a40"/><rect x="0" y="1050" width="195" height="100" fill="#a03538"/><rect x="0" y="1150" width="195" height="50" fill="#7a2a30"/><rect x="0" y="1200" width="195" height="50" fill="#3a1a1c"/><rect x="0" y="1250" width="195" height="50" fill="#4a3a3c"/><rect x="0" y="1300" width="195" height="60" fill="#7a3035"/><rect x="0" y="1360" width="195" height="90" fill="#2e4a32"/><rect x="0" y="1450" width="195" height="105" fill="#3a5a3e"/>
</g>
<g transform="translate(780,0)">
<rect x="0" y="2" width="195" height="18" fill="#2a4a2e"/><rect x="0" y="20" width="195" height="60" fill="#2e9034"/><rect x="0" y="80" width="195" height="100" fill="#3a8a40"/><rect x="0" y="180" width="195" height="50" fill="#2e8a33"/><rect x="0" y="230" width="195" height="70" fill="#3a8a40"/><rect x="0" y="300" width="195" height="30" fill="#0e4a14"/><rect x="0" y="330" width="195" height="120" fill="#2e9a34"/><rect x="0" y="450" width="195" height="50" fill="#2e8a33"/><rect x="0" y="500" width="195" height="100" fill="#3a8a40"/><rect x="0" y="600" width="195" height="100" fill="#3a7a3e"/><rect x="0" y="700" width="195" height="130" fill="#2e8a33"/><rect x="0" y="830" width="195" height="70" fill="#30a536"/><rect x="0" y="900" width="195" height="100" fill="#3a8040"/><rect x="0" y="1000" width="195" height="100" fill="#2ea035"/><rect x="0" y="1100" width="195" height="80" fill="#2e8a33"/><rect x="0" y="1180" width="195" height="70" fill="#2e7a32"/><rect x="0" y="1250" width="195" height="50" fill="#3a8a40"/><rect x="0" y="1300" width="195" height="100" fill="#1e5a22"/><rect x="0" y="1400" width="195" height="100" fill="#2e6a32"/><rect x="0" y="1500" width="195" height="55" fill="#2e7a32"/>
</g>
<g transform="translate(975,0)">
<rect x="0" y="2" width="195" height="18" fill="#3a3a2a"/><rect x="0" y="20" width="195" height="60" fill="#3a6a3c"/><rect x="0" y="80" width="195" height="20" fill="#0e1e10"/><rect x="0" y="100" width="195" height="80" fill="#2e8a33"/><rect x="0" y="180" width="195" height="50" fill="#3a8a40"/><rect x="0" y="230" width="195" height="70" fill="#2e6a32"/><rect x="0" y="300" width="195" height="30" fill="#1e3a20"/><rect x="0" y="330" width="195" height="70" fill="#3a6a3c"/><rect x="0" y="400" width="195" height="60" fill="#2e6a32"/><rect x="0" y="460" width="195" height="40" fill="#1e3a20"/><rect x="0" y="500" width="195" height="100" fill="#3a8a40"/><rect x="0" y="600" width="195" height="60" fill="#2e8a33"/><rect x="0" y="660" width="195" height="60" fill="#2ea535"/><rect x="0" y="720" width="195" height="80" fill="#3a8a40"/><rect x="0" y="800" width="195" height="60" fill="#1e3a20"/><rect x="0" y="860" width="195" height="40" fill="#2e6a32"/><rect x="0" y="900" width="195" height="100" fill="#3a7a3e"/><rect x="0" y="1000" width="195" height="70" fill="#1e3a20"/><rect x="0" y="1070" width="195" height="110" fill="#2e7a32"/><rect x="0" y="1180" width="195" height="100" fill="#3a8a40"/><rect x="0" y="1280" width="195" height="80" fill="#2e6a32"/><rect x="0" y="1360" width="195" height="90" fill="#1e3a20"/><rect x="0" y="1450" width="195" height="105" fill="#2e6a32"/>
</g>
<g transform="translate(1170,0)">
<rect x="0" y="2" width="197" height="18" fill="#6a2a20"/><rect x="0" y="20" width="197" height="60" fill="#3a9a40"/><rect x="0" y="80" width="197" height="100" fill="#2e8a33"/><rect x="0" y="180" width="197" height="100" fill="#3a9a40"/><rect x="0" y="280" width="197" height="50" fill="#2e8a33"/><rect x="0" y="330" width="197" height="120" fill="#3a8a40"/><rect x="0" y="450" width="197" height="80" fill="#2e8a33"/><rect x="0" y="530" width="197" height="40" fill="#2ea535"/><rect x="0" y="570" width="197" height="130" fill="#2e8a33"/><rect x="0" y="700" width="197" height="100" fill="#3a8a40"/><rect x="0" y="800" width="197" height="100" fill="#2e9034"/><rect x="0" y="900" width="197" height="100" fill="#3a9a40"/><rect x="0" y="1000" width="197" height="60" fill="#2e8a33"/><rect x="0" y="1060" width="197" height="120" fill="#40a545"/><rect x="0" y="1180" width="197" height="100" fill="#2e8a33"/><rect x="0" y="1280" width="197" height="80" fill="#2e6a32"/><rect x="0" y="1360" width="197" height="90" fill="#1e4a22"/><rect x="0" y="1450" width="197" height="105" fill="#2e6a32"/>
</g>
<g transform="translate(1367,0)">
<rect x="0" y="2" width="195" height="18" fill="#3a4a2a"/><rect x="0" y="20" width="195" height="80" fill="#2e9a34"/><rect x="0" y="100" width="195" height="80" fill="#3a8a40"/><rect x="0" y="180" width="195" height="80" fill="#2e7a32"/><rect x="0" y="260" width="195" height="70" fill="#3a7a3e"/><rect x="0" y="330" width="195" height="120" fill="#2e6a32"/><rect x="0" y="450" width="195" height="70" fill="#3a7a3e"/><rect x="0" y="520" width="195" height="40" fill="#1a3a1c"/><rect x="0" y="560" width="195" height="40" fill="#3a7a3e"/><rect x="0" y="600" width="195" height="50" fill="#2ea535"/><rect x="0" y="650" width="195" height="50" fill="#2e8a33"/><rect x="0" y="700" width="195" height="100" fill="#2e7a32"/><rect x="0" y="800" width="195" height="100" fill="#3a8a40"/><rect x="0" y="900" width="195" height="100" fill="#2e8a33"/><rect x="0" y="1000" width="195" height="100" fill="#3a7a3e"/><rect x="0" y="1100" width="195" height="80" fill="#1e5a22"/><rect x="0" y="1180" width="195" height="100" fill="#3a8a40"/><rect x="0" y="1280" width="195" height="80" fill="#1e3a20"/><rect x="0" y="1360" width="195" height="90" fill="#2e6a32"/><rect x="0" y="1450" width="195" height="105" fill="#2e7a32"/>
</g>
</g>
<g stroke="#a8b8a8" stroke-width="2" opacity="0.35">
<line x1="766" y1="2498" x2="766" y2="4153"/><line x1="916" y1="2498" x2="916" y2="4153"/><line x1="1064" y1="2498" x2="1064" y2="4153"/><line x1="1212" y1="2498" x2="1212" y2="4153"/><line x1="1360" y1="2498" x2="1360" y2="4153"/><line x1="1508" y1="2498" x2="1508" y2="4153"/><line x1="1657" y1="2498" x2="1657" y2="4153"/>
</g>

<!-- dendrogram -->
<defs>
<pattern id="lv" x="440" y="2498" width="160" height="60" patternUnits="userSpaceOnUse">
<path d="M60 4H160 M95 11H160 M30 19H160 M110 26H160 M75 34H160 M45 41H160 M100 49H160 M85 56H160 M60 4V19 M95 11V26 M75 34V49 M45 41V56" stroke="#8c8c8c" stroke-width="2" fill="none"/>
</pattern>
</defs>
<rect x="445" y="2498" width="155" height="1655" fill="url(#lv)"/>
<rect x="530" y="2498" width="68" height="1655" fill="#a6a6a6"/>
<g stroke="#e6e6e6" stroke-width="1.5" opacity="0.8">
<path d="M540 2512H596 M548 2540H596 M535 2575H596 M552 2610H596 M540 2648H596 M548 2690H596 M536 2728H596 M553 2770H596 M540 2812H596 M548 2850H596 M535 2892H596 M552 2930H596 M540 2972H596 M548 3012H596 M536 3055H596 M553 3095H596 M540 3135H596 M548 3178H596 M535 3218H596 M552 3260H596 M540 3300H596 M548 3342H596 M536 3384H596 M553 3425H596 M540 3466H596 M548 3508H596 M535 3550H596 M552 3592H596 M540 3632H596 M548 3675H596 M536 3716H596 M553 3758H596 M540 3800H596 M548 3842H596 M535 3884H596 M552 3925H596 M540 3966H596 M548 4008H596 M536 4050H596 M553 4092H596 M540 4132H596"/>
</g>
<g transform="translate(40,2480) scale(0.37,1.078)" stroke="#727272" stroke-width="3" fill="none">
<path vector-effect="non-scaling-stroke" d="M70 290V970 M70 290H430 M70 970H375 M430 113V465 M430 113H680 M430 465H470 M680 80V143 M680 80H795 M680 143H1040 M795 57V105 M795 57H930 M795 105H955 M930 42V65 M930 42H1120 M930 65H1150 M955 100V118 M955 100H1125 M955 118H1200 M1040 135V150 M1040 135H1190 M1040 150H1300 M470 318V608 M470 318H525 M470 608H795 M525 250V390 M525 250H735 M525 390H860 M735 203V297 M735 203H790 M735 297H930 M790 180V222 M790 180H970 M790 222H1000 M970 168V183 M970 168H1220 M970 183H1180 M1000 215V232 M1000 215H1140 M1000 232H1140 M930 265V328 M930 265H1060 M930 328H1095 M1060 255V278 M1060 255H1200 M1060 278H1140 M1095 310V348 M1095 310H1230 M1095 348H1220 M860 367V410 M860 367H1180 M860 410H985 M985 390V432 M985 390H1200 M985 432H1075 M1075 410V460 M1075 410H1220 M1075 460H1130 M1130 445V470 M1130 445H1195 M1130 470H1300 M795 543V672 M795 543H985 M795 672H945 M985 520V568 M985 520H1150 M985 568H1105 M1105 550V585 M1105 550H1250 M1105 585H1180 M945 628V715 M945 628H1095 M945 715H1055 M1055 680V750 M1055 680H1180 M1055 750H1195 M1195 735V770 M1195 735H1300 M1195 770H1260 M375 870V1070 M375 870H625 M375 1070H460 M625 840V903 M625 840H820 M625 903H1230 M820 818V862 M820 818H1010 M820 862H1015 M1010 800V828 M1010 800H1070 M1010 828H1200 M1070 790V810 M1070 790H1250 M1070 810H1200 M1015 855V870 M1015 855H1290 M1015 870H1125 M460 955V1188 M460 955H925 M460 1188H580 M925 932V978 M925 932H1125 M925 978H1135 M1135 955V1000 M1135 955H1260 M1135 1000H1190 M580 1053V1320 M580 1053H875 M580 1320H665 M875 1040V1067 M875 1040H1040 M875 1067H1110 M665 1207V1430 M665 1207H720 M665 1430H875 M720 1127V1292 M720 1127H970 M720 1292H905 M970 1100V1148 M970 1100H1110 M970 1148H1045 M1045 1135V1165 M1045 1135H1190 M1045 1165H1150 M905 1245V1333 M905 1245H1055 M905 1333H1125 M1055 1213V1280 M1055 1213H1235 M1055 1280H1140 M1140 1262V1300 M1140 1262H1260 M1140 1300H1255 M1125 1320V1350 M1125 1320H1260 M1125 1350H1150 M875 1400V1463 M875 1400H1135 M875 1463H930 M1135 1390V1412 M1135 1390H1280 M1135 1412H1250 M930 1432V1496 M930 1432H1150 M930 1496H985 M985 1470V1525 M985 1470H1150 M985 1525H1180 M1180 1515V1540 M1180 1515H1300 M1180 1540H1280"/>
</g>
</svg>
</body></html>
